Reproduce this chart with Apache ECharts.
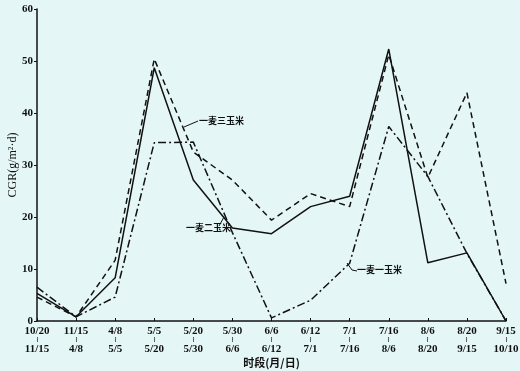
<!DOCTYPE html>
<html><head><meta charset="utf-8">
<script src="https://cdn.jsdelivr.net/npm/echarts@6/dist/echarts.min.js"></script>
<style>html,body{margin:0;padding:0;background:#e5f6f6}#c{width:520px;height:371px}</style>
</head><body><div id="c"></div>
<script>
var periodStart = ['10/20','11/15','4/8','5/5','5/20','5/30','6/6','6/12','7/1','7/16','8/6','8/20','9/15'];
var periodEnd   = ['11/15','4/8','5/5','5/20','5/30','6/6','6/12','7/1','7/16','8/6','8/20','9/15','10/10'];
var oneMaizeDashDot = [6.5, 0.8, 4.6, 34.3, 34.4, 17.0, 0.6, 4.0, 11.1, 37.4, 27.8, 13.0, 0];
var twoMaizeSolid   = [5.3, 0.8, 8.3, 48.7, 27.1, 17.9, 16.8, 22.0, 24.0, 52.3, 11.2, 13.1, 0];
var threeMaizeDash  = [4.6, 0.8, 11.7, 50.4, 32.5, 27.1, 19.4, 24.5, 22.0, 51.2, 27.6, 43.9, 7.2];
var yTicks = [0, 10, 20, 30, 40, 50, 60];

var cats = periodStart.map(function(s, i){ return s + '\n' + periodEnd[i]; });
var chart = echarts.init(document.getElementById('c'), null, {renderer:'canvas'});
var serif = '"Liberation Serif","DejaVu Serif",serif';
var cjk = '"Noto Sans CJK SC",sans-serif';
function ser(name, data, type){
  return {name:name, type:'line', data:data, symbol:'none', silent:true,
    lineStyle:{color:'#111', width:1.5, type:type}};
}
chart.setOption({
  backgroundColor:'#e5f6f6',
  animation:false,
  grid:{left:37, right:14, top:9, bottom:50, containLabel:false, outerBoundsMode:'none'},
  xAxis:{type:'category', data:cats, boundaryGap:false,
    name:'时段(月/日)', nameLocation:'middle', nameGap:36, nameMoveOverlap:false,
    nameTextStyle:{fontFamily:cjk, fontSize:11, fontWeight:'bold', color:'#111'},
    axisLine:{lineStyle:{color:'#111', width:1.5}},
    axisTick:{inside:true, length:3, lineStyle:{color:'#111'}},
    axisLabel:{margin:4, interval:0, color:'#111',
      formatter:function(v){ var p=v.split('\n'); return '{a|'+p[0]+'}\n{b|≀}\n{a|'+p[1]+'}'; },
      rich:{a:{fontFamily:serif, fontSize:11, fontWeight:'bold', lineHeight:12, color:'#111'},
            b:{fontFamily:serif, fontSize:8, lineHeight:6, color:'#111'}}},
    splitLine:{show:false}},
  yAxis:{type:'value', min:yTicks[0], max:yTicks[yTicks.length-1], interval:10,
    name:'CGR(g/m²·d)', nameLocation:'middle', nameGap:18, nameMoveOverlap:false,
    nameTextStyle:{fontFamily:serif, fontSize:12, color:'#111'},
    axisLine:{show:true, lineStyle:{color:'#111', width:1.5}},
    axisTick:{show:true, length:3, lineStyle:{color:'#111'}},
    axisLabel:{margin:4, fontFamily:serif, fontSize:11, fontWeight:'bold', color:'#111'},
    splitLine:{show:false}},
  series:[
    ser('一麦一玉米', oneMaizeDashDot, [8,3,2,3]),
    ser('一麦二玉米', twoMaizeSolid, 'solid'),
    ser('一麦三玉米', threeMaizeDash, [6,4])
  ],
  graphic:[
    {type:'line', shape:{x1:184,y1:127,x2:198,y2:121}, style:{stroke:'#111', lineWidth:1}},
    {type:'text', left:199, top:116, style:{text:'一麦三玉米', font:'bold 9px "Noto Sans CJK SC"', fill:'#111'}},
    {type:'line', shape:{x1:219,y1:226,x2:224,y2:217}, style:{stroke:'#111', lineWidth:1}},
    {type:'text', left:186, top:223, style:{text:'一麦二玉米', font:'bold 9px "Noto Sans CJK SC"', fill:'#111'}},
    {type:'polyline', shape:{points:[[347,263],[352,270],[357,271]]}, style:{stroke:'#111', lineWidth:1, fill:null}},
    {type:'text', left:357, top:265, style:{text:'一麦一玉米', font:'bold 9px "Noto Sans CJK SC"', fill:'#111'}}
  ]
});
</script></body></html>
